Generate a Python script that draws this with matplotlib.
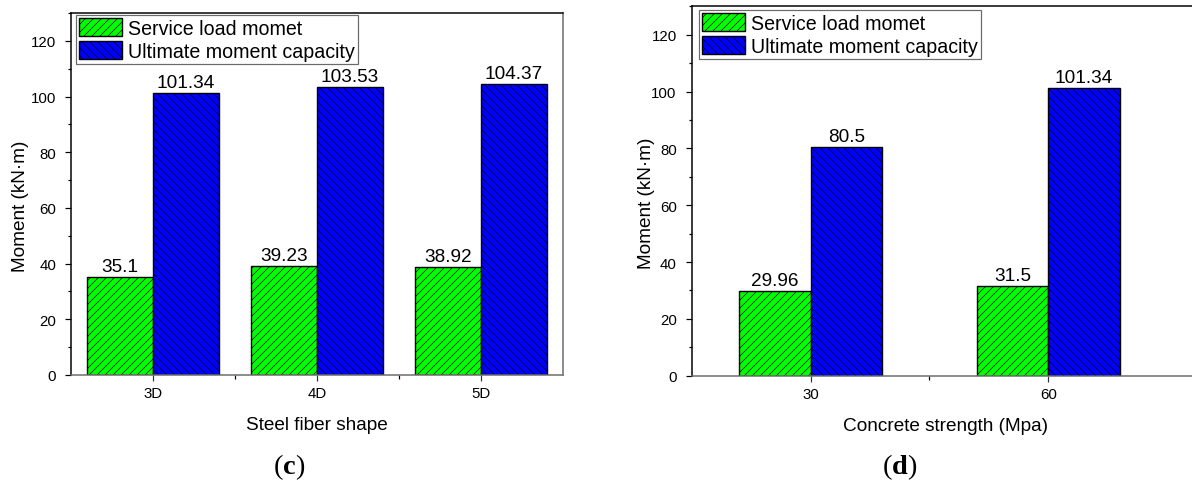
import matplotlib
matplotlib.use("Agg")
import matplotlib.pyplot as plt
from matplotlib.ticker import MultipleLocator, FixedLocator
import numpy as np

# ---- data ----
shape_labels = ["3D", "4D", "5D"]
shape_service = [35.1, 39.23, 38.92]
shape_ultimate = [101.34, 103.53, 104.37]

strength_labels = ["30", "60"]
strength_service = [29.96, 31.5]
strength_ultimate = [80.5, 101.34]

series_names = ["Service load momet", "Ultimate moment capacity"]

# ---- style ----
DPI = 120
W, H = 1192, 490
plt.rcParams["font.family"] = ["Liberation Sans", "DejaVu Sans"]
plt.rcParams["hatch.linewidth"] = 0.4
plt.rcParams["mathtext.fontset"] = "custom"
plt.rcParams["mathtext.rm"] = "Liberation Serif"
plt.rcParams["mathtext.bf"] = "Liberation Serif:bold"

GREEN = "#00FF00"
BLUE = "#0000FF"
GRAY = "#6a6a6a"
LEG_FS = 11.8


def px(v):
    return v * 72.0 / DPI


def em(v):
    # pixels -> legend font-size units
    return v / (LEG_FS * DPI / 72.0)


fig = plt.figure(figsize=(W / DPI, H / DPI), dpi=DPI)


def fig_rect(x0, y_top, x1, y_bot):
    return [x0 / W, 1 - y_bot / H, (x1 - x0) / W, (y_bot - y_top) / H]


def panel(rect, labels, service, ultimate, width, xmax, xlabel, legend_xy,
          ylabel_xy):
    ax = fig.add_axes(rect)
    x = np.arange(len(labels))
    b1 = ax.bar(x - width / 2, service, width, color=GREEN, edgecolor="black",
                linewidth=px(1.4), hatch="/////", label=series_names[0], zorder=2)
    b2 = ax.bar(x + width / 2, ultimate, width, color=BLUE, edgecolor="black",
                linewidth=px(1.4), hatch="\\\\\\\\\\", label=series_names[1],
                zorder=2)
    for bars, vals in ((b1, service), (b2, ultimate)):
        for r, v in zip(bars, vals):
            ax.annotate(f"{v:g}", (r.get_x() + r.get_width() / 2, v),
                        xytext=(0, px(2)), textcoords="offset points",
                        ha="center", va="bottom", fontsize=11.4)
    ax.set_xlim(-0.5, xmax)
    ax.set_ylim(0, 130)
    ax.set_xticks(x)
    ax.set_xticklabels(labels)
    ax.xaxis.set_minor_locator(FixedLocator(x[:-1] + 0.5))
    ax.yaxis.set_major_locator(MultipleLocator(20))
    ax.yaxis.set_minor_locator(MultipleLocator(10))
    ax.tick_params(axis="both", which="major", direction="out", length=px(6),
                   width=px(1.2), labelsize=9)
    ax.tick_params(axis="both", which="minor", direction="out", length=px(3.5),
                   width=px(1.2))
    ax.tick_params(axis="y", pad=px(9))
    ax.tick_params(axis="x", pad=px(5), colors="#333333", labelcolor="black")
    for side in ("left", "top"):
        ax.spines[side].set_color("black")
    for side in ("right", "bottom"):
        ax.spines[side].set_color(GRAY)
    for s in ax.spines.values():
        s.set_linewidth(px(1.5))
    ax.set_xlabel(xlabel, fontsize=11.4, labelpad=px(16))
    ax.set_ylabel("Moment (kN·m)", fontsize=11.4)
    ax.yaxis.set_label_coords(ylabel_xy[0] / W, 1 - ylabel_xy[1] / H,
                              transform=fig.transFigure)
    leg = ax.legend(loc="upper left", bbox_to_anchor=legend_xy, borderaxespad=0,
                    fontsize=LEG_FS, handlelength=em(43), handleheight=em(21),
                    labelspacing=em(3), borderpad=em(3), handletextpad=em(6),
                    fancybox=False, framealpha=1, edgecolor=GRAY)
    leg.get_frame().set_linewidth(px(1.2))
    return ax


# left panel: steel fiber shape
axc = panel(fig_rect(71, 14, 563, 376), shape_labels, shape_service, shape_ultimate,
            0.4, 2.5, "Steel fiber shape", (0.01, 0.995), (29, 206))

# right panel: concrete strength (frame runs past the figure edge)
right_x1 = 1200
xmax_d = -0.5 + (right_x1 - 691.7) / 237.7
axd = panel(fig_rect(691.7, 7.3, right_x1, 376.7), strength_labels, strength_service,
            strength_ultimate, 0.3, xmax_d, "Concrete strength (Mpa)",
            (0.0144, 0.99), (655, 203))

fig.text(289 / W, 1 - 467 / H, r"$\mathrm{(}\mathbf{c}\mathrm{)}$", ha="center",
         va="center", fontsize=17)
fig.text(900 / W, 1 - 467 / H, r"$\mathrm{(}\mathbf{d}\mathrm{)}$", ha="center",
         va="center", fontsize=17)

fig.savefig("out.png", dpi=DPI)
